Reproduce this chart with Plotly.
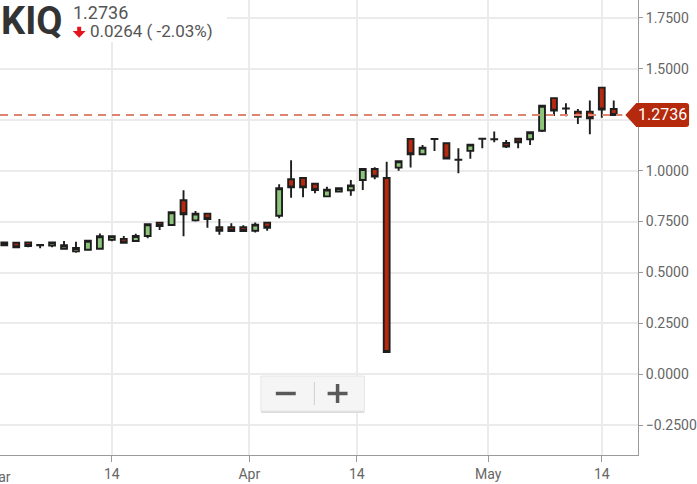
import plotly.graph_objects as go

# ---------------- data ----------------
opens = [0.633, 0.646, 0.648, 0.635, 0.632, 0.617, 0.604, 0.612, 0.617, 0.660,
         0.665, 0.655, 0.679, 0.745, 0.733, 0.855, 0.756, 0.789, 0.722, 0.722,
         0.722, 0.705, 0.745, 0.779, 0.958, 0.964, 0.936, 0.874, 0.897, 0.904,
         0.954, 1.008, 0.964, 1.015, 1.156, 1.081, 1.156, 1.135, 1.054, 1.097,
         1.157, 1.155, 1.136, 1.157, 1.154, 1.196, 1.356, 1.306, 1.290, 1.290,
         1.408, 1.303]
highs = [0.650, 0.648, 0.650, 0.636, 0.652, 0.655, 0.651, 0.658, 0.692, 0.682,
         0.679, 0.690, 0.740, 0.747, 0.799, 0.904, 0.802, 0.791, 0.763, 0.742,
         0.732, 0.745, 0.747, 0.933, 1.051, 0.966, 0.938, 0.921, 0.916, 0.954,
         1.010, 1.017, 1.044, 1.048, 1.160, 1.126, 1.158, 1.137, 1.110, 1.130,
         1.158, 1.192, 1.151, 1.159, 1.191, 1.321, 1.358, 1.331, 1.303, 1.344,
         1.410, 1.344]
lows = [0.630, 0.622, 0.624, 0.619, 0.624, 0.615, 0.597, 0.610, 0.615, 0.653,
        0.644, 0.653, 0.668, 0.709, 0.731, 0.678, 0.750, 0.720, 0.686, 0.702,
        0.702, 0.697, 0.705, 0.766, 0.867, 0.869, 0.889, 0.872, 0.895, 0.877,
        0.905, 0.958, 0.108, 1.000, 1.015, 1.079, 1.097, 1.057, 0.987, 1.059,
        1.110, 1.140, 1.111, 1.110, 1.126, 1.190, 1.269, 1.267, 1.229, 1.179,
        1.260, 1.272]
closes = [0.647, 0.624, 0.630, 0.634, 0.648, 0.634, 0.620, 0.656, 0.678, 0.678,
          0.646, 0.679, 0.737, 0.728, 0.796, 0.786, 0.789, 0.763, 0.705, 0.704,
          0.704, 0.735, 0.720, 0.914, 0.918, 0.918, 0.905, 0.907, 0.914, 0.928,
          1.008, 0.971, 0.110, 1.046, 1.081, 1.113, 1.155, 1.059, 1.053, 1.128,
          1.156, 1.154, 1.118, 1.139, 1.189, 1.319, 1.295, 1.305, 1.265, 1.257,
          1.300, 1.2736]

x_tick_labels = ["Mar", "14", "Apr", "14", "May", "14"]
x_tick_pos = [-0.5, 9, 20.5, 29.5, 40.5, 50]   # trading-day positions
y_tick_vals = [-0.25, 0.0, 0.25, 0.5, 0.75, 1.0, 1.25, 1.5, 1.75]

symbol = "KIQ"
last_price = 1.2736
change_text = "0.0264 ( -2.03%)"

# ---------------- geometry ----------------
W, H = 697, 484
PL, PR, PT, PB = 0, 640.7, 0, 455      # plot area in pixels
XR = [-0.358, 53.03]
YR = [-0.396, 1.838]


def px(x):
    return (x - PL) / (PR - PL)


def py(y):
    return 1 - (y - PT) / (PB - PT)


x_idx = list(range(len(opens)))

fig = go.Figure()
fig.add_trace(go.Candlestick(
    x=x_idx, open=opens, high=highs, low=lows, close=closes,
    increasing=dict(fillcolor="#8cc57a", line=dict(color="#1e1e1e", width=1.9)),
    decreasing=dict(fillcolor="#b52a0e", line=dict(color="#1e1e1e", width=1.9)),
    whiskerwidth=0, showlegend=False, hoverinfo="skip",
))

shapes = []
# white backdrop behind the header
shapes.append(dict(type="rect", xref="paper", yref="paper",
                   x0=px(0), x1=px(228), y0=py(42), y1=py(0),
                   fillcolor="white", line=dict(width=0), layer="above"))
# last price dashed line
shapes.append(dict(type="line", xref="paper", yref="y",
                   x0=0, x1=px(625), y0=last_price, y1=last_price,
                   line=dict(color="#dc8672", width=2, dash="8px,6px"), layer="above"))
# price tag
ty = 374.3 - last_price * 203.6
tag = (f"M {px(628)} {py(ty)} L {px(639)} {py(ty-12)} L {px(689)} {py(ty-12)} "
       f"Q {px(692)} {py(ty-12)} {px(692)} {py(ty-9)} L {px(692)} {py(ty+9)} "
       f"Q {px(692)} {py(ty+12)} {px(689)} {py(ty+12)} L {px(639)} {py(ty+12)} Z")
shapes.append(dict(type="path", xref="paper", yref="paper", path=tag,
                   fillcolor="#b5290c", line=dict(width=0), layer="above"))
# red down arrow
arrow = (f"M {px(77.5)} {py(26.7)} L {px(81.5)} {py(26.7)} L {px(81.5)} {py(31)} "
         f"L {px(86)} {py(31)} L {px(79.5)} {py(37.7)} L {px(73)} {py(31)} "
         f"L {px(77.5)} {py(31)} Z")
shapes.append(dict(type="path", xref="paper", yref="paper", path=arrow,
                   fillcolor="#e5131d", line=dict(width=0), layer="above"))
# zoom control box
shapes.append(dict(type="rect", xref="paper", yref="paper",
                   x0=px(262), x1=px(366), y0=py(413), y1=py(378),
                   fillcolor="#dcdcdc", line=dict(width=0), layer="above"))
shapes.append(dict(type="rect", xref="paper", yref="paper",
                   x0=px(262), x1=px(366), y0=py(411), y1=py(376),
                   fillcolor="#f5f5f5", line=dict(color="#e6e6e6", width=1), layer="above"))
shapes.append(dict(type="line", xref="paper", yref="paper",
                   x0=px(315.7), x1=px(315.7), y0=py(382), y1=py(405),
                   line=dict(color="#cfcfcf", width=1), layer="above"))
shapes.append(dict(type="line", xref="paper", yref="paper",
                   x0=px(277), x1=px(297), y0=py(393.5), y1=py(393.5),
                   line=dict(color="#595959", width=3.5), layer="above"))
shapes.append(dict(type="line", xref="paper", yref="paper",
                   x0=px(329), x1=px(349), y0=py(393.5), y1=py(393.5),
                   line=dict(color="#595959", width=3.5), layer="above"))
shapes.append(dict(type="line", xref="paper", yref="paper",
                   x0=px(339), x1=px(339), y0=py(384), y1=py(403),
                   line=dict(color="#595959", width=3.5), layer="above"))

annotations = [
    dict(text=f"<b>{symbol}</b>", xref="paper", yref="paper", x=px(-1), y=py(21),
         xanchor="left", yanchor="middle", showarrow=False,
         font=dict(family="Roboto", size=38, color="#333333")),
    dict(text=f"{last_price:.4f}", xref="paper", yref="paper", x=px(71.5), y=py(12.5),
         xanchor="left", yanchor="middle", showarrow=False,
         font=dict(family="Roboto", size=18, color="#555555")),
    dict(text=change_text, xref="paper", yref="paper", x=px(88.5), y=py(31.5),
         xanchor="left", yanchor="middle", showarrow=False,
         font=dict(family="Roboto", size=17, color="#555555")),
    dict(text=f"{last_price:.4f}", xref="paper", yref="paper", x=px(665), y=py(ty),
         xanchor="center", yanchor="middle", showarrow=False,
         font=dict(family="Roboto", size=16, color="white")),
    # partially visible month label at the left edge
    dict(text=x_tick_labels[0], xref="paper", yref="paper",
         x=(x_tick_pos[0] - XR[0]) / (XR[1] - XR[0]), y=py(476.5),
         xanchor="center", yanchor="middle", showarrow=False,
         font=dict(family="Roboto", size=14, color="#666666")),
]

fig.update_layout(
    width=W, height=H,
    margin=dict(l=PL, r=W - PR, t=PT, b=H - PB),
    paper_bgcolor="white", plot_bgcolor="white",
    shapes=shapes, annotations=annotations,
    font=dict(family="Roboto", size=14, color="#666666"),
    xaxis=dict(range=XR, rangeslider=dict(visible=False),
               tickmode="array", tickvals=x_tick_pos[1:], ticktext=x_tick_labels[1:],
               showgrid=True, gridcolor="#ebebeb", gridwidth=2,
               showline=True, linecolor="#9a9a9a", linewidth=1,
               ticks="outside", ticklen=6, tickcolor="#9a9a9a",
               tickfont=dict(family="Roboto", size=14, color="#666666"),
               zeroline=False, fixedrange=True),
    yaxis=dict(side="right", range=YR, tickmode="array", tickvals=y_tick_vals,
               tickformat=".4f",
               showgrid=True, gridcolor="#ebebeb", gridwidth=1.5,
               showline=True, linecolor="#9a9a9a", linewidth=1,
               ticks="outside", ticklen=4, tickcolor="#9a9a9a",
               tickfont=dict(family="Roboto", size=14, color="#666666"),
               zeroline=False, fixedrange=True),
    hovermode=False,
)

fig.write_html("out.html", config=dict(displayModeBar=False, responsive=False),
               post_script="document.body.style.margin='0';")
